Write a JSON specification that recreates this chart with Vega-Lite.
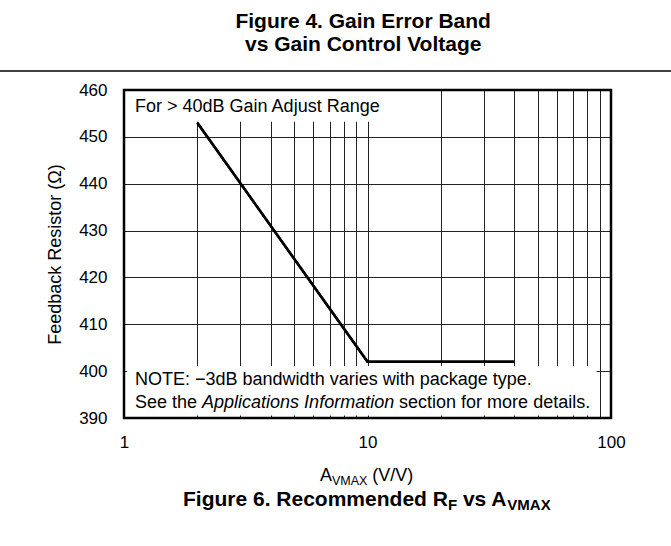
{
  "$schema": "https://vega.github.io/schema/vega-lite/v6.json",
  "width": 487,
  "height": 328,
  "autosize": {"type": "none"},
  "padding": {"left": 124, "top": 90, "right": 60, "bottom": 128},
  "background": "white",
  "config": {
    "view": {"stroke": null},
    "font": "Liberation Sans",
    "text": {"font": "Liberation Sans", "color": "black"}
  },
  "datasets": {
    "curve": [
      {"gain": 2, "rf": 453},
      {"gain": 10, "rf": 402},
      {"gain": 40, "rf": 402}
    ]
  },
  "layer": [
    {
      "data": {"name": "curve"},
      "mark": {"type": "line", "color": "black", "strokeWidth": 2.5},
      "encoding": {
        "x": {
          "field": "gain", "type": "quantitative",
          "scale": {"type": "log", "domain": [1, 100]},
          "axis": {
            "values": [1, 2, 3, 4, 5, 6, 7, 8, 9, 10, 20, 30, 40, 50, 60, 70, 80, 90, 100],
            "labelExpr": "datum.value == 1 || datum.value == 10 || datum.value == 100 ? '' + datum.value : ''",
            "labelFontSize": 17, "labelPadding": 16, "labelColor": "black", "labelFlush": false, "labelOverlap": false,
            "ticks": false, "tickSize": 0, "domain": false,
            "grid": true, "gridColor": "#222", "gridWidth": 1, "gridOpacity": 1,
            "title": null
          }
        },
        "y": {
          "field": "rf", "type": "quantitative",
          "scale": {"domain": [390, 460], "zero": false, "nice": false},
          "axis": {
            "values": [390, 400, 410, 420, 430, 440, 450, 460],
            "labelFontSize": 17, "labelPadding": 17, "labelColor": "black",
            "ticks": false, "tickSize": 0, "domain": false,
            "grid": true, "gridColor": "#222", "gridWidth": 1, "gridOpacity": 1,
            "title": "Feedback Resistor (Ω)", "titleFontSize": 18, "titleFontWeight": "normal",
            "titleColor": "black", "titlePadding": 14
          }
        }
      }
    },
    {
      "data": {"values": [{"box": "range note"}]},
      "mark": {"type": "rect", "color": "white"},
      "encoding": {
        "x": {"datum": 1, "type": "quantitative"},
        "x2": {"datum": 12.4},
        "y": {"datum": 453.2, "type": "quantitative"},
        "y2": {"datum": 460}
      }
    },
    {
      "data": {"values": [{"box": "bandwidth note"}]},
      "mark": {"type": "rect", "color": "white"},
      "encoding": {
        "x": {"datum": 1.03, "type": "quantitative"},
        "x2": {"datum": 87.3},
        "y": {"datum": 390.55, "type": "quantitative"},
        "y2": {"datum": 401.1}
      }
    },
    {
      "data": {"name": "curve"},
      "mark": {"type": "line", "color": "black", "strokeWidth": 2.5},
      "encoding": {
        "x": {"field": "gain", "type": "quantitative"},
        "y": {"field": "rf", "type": "quantitative"}
      }
    },
    {
      "data": {"values": [{"t": "For > 40dB Gain Adjust Range"}]},
      "mark": {"type": "text", "align": "left", "baseline": "alphabetic", "fontSize": 18},
      "encoding": {
        "text": {"field": "t"},
        "x": {"datum": 1.11, "type": "quantitative"},
        "y": {"datum": 455.37, "type": "quantitative"}
      }
    },
    {
      "data": {"values": [{"t": "NOTE: −3dB bandwidth varies with package type."}]},
      "mark": {"type": "text", "align": "left", "baseline": "alphabetic", "fontSize": 18},
      "encoding": {
        "text": {"field": "t"},
        "x": {"datum": 1.11, "type": "quantitative"},
        "y": {"datum": 396.94, "type": "quantitative"}
      }
    },
    {
      "data": {"values": [{"t": "See the"}]},
      "mark": {"type": "text", "align": "left", "baseline": "alphabetic", "fontSize": 18},
      "encoding": {
        "text": {"field": "t"},
        "x": {"datum": 1.11, "type": "quantitative"},
        "y": {"datum": 392.03, "type": "quantitative"}
      }
    },
    {
      "data": {"values": [{"t": "Applications Information"}]},
      "mark": {"type": "text", "align": "left", "baseline": "alphabetic", "fontSize": 18, "fontStyle": "italic"},
      "encoding": {
        "text": {"field": "t"},
        "x": {"datum": 2.092, "type": "quantitative"},
        "y": {"datum": 392.03, "type": "quantitative"}
      }
    },
    {
      "data": {"values": [{"t": "section for more details."}]},
      "mark": {"type": "text", "align": "left", "baseline": "alphabetic", "fontSize": 18},
      "encoding": {
        "text": {"field": "t"},
        "x": {"datum": 13.48, "type": "quantitative"},
        "y": {"datum": 392.03, "type": "quantitative"}
      }
    },
    {
      "data": {"values": [{"frame": "plot"}]},
      "mark": {"type": "rect", "filled": false, "color": "black", "strokeWidth": 2.5},
      "encoding": {
        "x": {"datum": 1, "type": "quantitative"},
        "x2": {"datum": 100},
        "y": {"datum": 390, "type": "quantitative"},
        "y2": {"datum": 460}
      }
    },
    {
      "data": {"values": [{"t": "A"}]},
      "mark": {"type": "text", "align": "left", "baseline": "alphabetic", "fontSize": 18},
      "encoding": {
        "text": {"field": "t"},
        "x": {"datum": 6.381, "type": "quantitative"},
        "y": {"datum": 376.56, "type": "quantitative"}
      }
    },
    {
      "data": {"values": [{"t": "VMAX"}]},
      "mark": {"type": "text", "align": "left", "baseline": "alphabetic", "fontSize": 12.5},
      "encoding": {
        "text": {"field": "t"},
        "x": {"datum": 7.147, "type": "quantitative"},
        "y": {"datum": 375.7, "type": "quantitative"}
      }
    },
    {
      "data": {"values": [{"t": "(V/V)"}]},
      "mark": {"type": "text", "align": "left", "baseline": "alphabetic", "fontSize": 18},
      "encoding": {
        "text": {"field": "t"},
        "x": {"datum": 10.47, "type": "quantitative"},
        "y": {"datum": 376.56, "type": "quantitative"}
      }
    },
    {
      "data": {"values": [{"t": "Figure 6. Recommended R"}]},
      "mark": {"type": "text", "align": "left", "baseline": "alphabetic", "fontSize": 21, "fontWeight": "bold"},
      "encoding": {
        "text": {"field": "t"},
        "x": {"datum": 1.747, "type": "quantitative"},
        "y": {"datum": 371.22, "type": "quantitative"}
      }
    },
    {
      "data": {"values": [{"t": "F"}]},
      "mark": {"type": "text", "align": "left", "baseline": "alphabetic", "fontSize": 15, "fontWeight": "bold"},
      "encoding": {
        "text": {"field": "t"},
        "x": {"datum": 21.39, "type": "quantitative"},
        "y": {"datum": 370.37, "type": "quantitative"}
      }
    },
    {
      "data": {"values": [{"t": "vs A"}]},
      "mark": {"type": "text", "align": "left", "baseline": "alphabetic", "fontSize": 21, "fontWeight": "bold"},
      "encoding": {
        "text": {"field": "t"},
        "x": {"datum": 24.65, "type": "quantitative"},
        "y": {"datum": 371.22, "type": "quantitative"}
      }
    },
    {
      "data": {"values": [{"t": "VMAX"}]},
      "mark": {"type": "text", "align": "left", "baseline": "alphabetic", "fontSize": 15, "fontWeight": "bold"},
      "encoding": {
        "text": {"field": "t"},
        "x": {"datum": 37.51, "type": "quantitative"},
        "y": {"datum": 370.37, "type": "quantitative"}
      }
    },
    {
      "data": {"values": [{"t": "Figure 4. Gain Error Band"}]},
      "mark": {"type": "text", "align": "center", "baseline": "alphabetic", "fontSize": 21, "fontWeight": "bold"},
      "encoding": {
        "text": {"field": "t"},
        "x": {"datum": 9.6, "type": "quantitative"},
        "y": {"datum": 473.23, "type": "quantitative"}
      }
    },
    {
      "data": {"values": [{"t": "vs Gain Control Voltage"}]},
      "mark": {"type": "text", "align": "center", "baseline": "alphabetic", "fontSize": 21, "fontWeight": "bold"},
      "encoding": {
        "text": {"field": "t"},
        "x": {"datum": 9.6, "type": "quantitative"},
        "y": {"datum": 468.32, "type": "quantitative"}
      }
    },
    {
      "data": {"values": [{"separator": "page rule"}]},
      "mark": {"type": "rule", "color": "black", "strokeWidth": 1.5},
      "encoding": {
        "x": {"datum": 0.3, "type": "quantitative"},
        "x2": {"datum": 200},
        "y": {"datum": 464.05, "type": "quantitative"}
      }
    }
  ]
}
